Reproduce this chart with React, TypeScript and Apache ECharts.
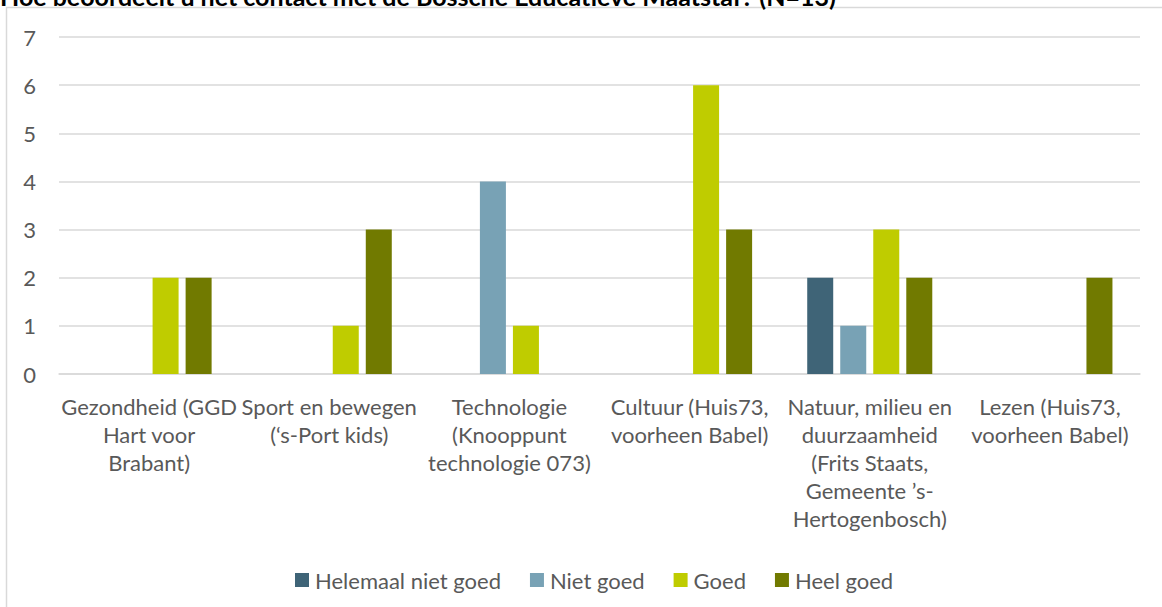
import React, { useEffect, useRef } from "react";
import * as echarts from "echarts";

const title = "Hoe beoordeelt u het contact met de Bossche Educatieve Maatstaf? (N=13)";
const categories = [
  "Gezondheid (GGD\nHart voor\nBrabant)",
  "Sport en bewegen\n(‘s-Port kids)",
  "Technologie\n(Knooppunt\ntechnologie 073)",
  "Cultuur (Huis73,\nvoorheen Babel)",
  "Natuur, milieu en\nduurzaamheid\n(Frits Staats,\nGemeente ’s-\nHertogenbosch)",
  "Lezen (Huis73,\nvoorheen Babel)",
];
const seriesNames = ["Helemaal niet goed", "Niet goed", "Goed", "Heel goed"];
const helemaalNietGoed = [0, 0, 0, 0, 2, 0];
const nietGoed = [0, 0, 4, 0, 1, 0];
const goed = [2, 1, 1, 6, 3, 0];
const heelGoed = [2, 3, 0, 3, 2, 2];
const colors = ["#3F6477", "#78A2B5", "#BFCC00", "#717A00"];
const yTicks = { min: 0, max: 7, interval: 1 };

const FONT = "Lato, 'Open Sans', sans-serif";

export default function App() {
  const ref = useRef<HTMLDivElement>(null);
  useEffect(() => {
    document.body.style.margin = "0";
    if (!ref.current) return;
    const chart = echarts.init(ref.current, null, { renderer: "svg" });
    const values = [helemaalNietGoed, nietGoed, goed, heelGoed];
    chart.setOption({
      animation: false,
      backgroundColor: "#ffffff",
      textStyle: { fontFamily: FONT },
      graphic: [
        {
          type: "text",
          x: 0,
          y: 8,
          style: {
            text: title,
            font: `bold 25px ${FONT}`,
            fill: "#000000",
            verticalAlign: "bottom",
          },
          silent: true,
        },
        {
          type: "rect",
          shape: { x: 6.5, y: 7.5, width: 1300, height: 800 },
          style: { fill: "#ffffff", stroke: "#D9D9D9", lineWidth: 1.5 },
          silent: true,
          z: -10,
        },
      ],
      grid: { left: 59, right: 22, top: 37, bottom: 233, containLabel: false },
      legend: {
        data: seriesNames,
        top: 564,
        left: 290,
        itemWidth: 14,
        itemHeight: 14,
        itemGap: 29,
        icon: "rect",
        textStyle: { color: "#595959", fontSize: 22, fontFamily: FONT, padding: [0, 0, 0, 1] },
      },
      xAxis: {
        type: "category",
        data: categories,
        axisLine: { show: true, lineStyle: { color: "#D9D9D9", width: 1.5 } },
        axisTick: { show: false },
        axisLabel: {
          color: "#595959",
          fontSize: 22,
          fontFamily: FONT,
          lineHeight: 28,
          margin: 18,
          interval: 0,
          align: "center",
        },
      },
      yAxis: {
        type: "value",
        min: yTicks.min,
        max: yTicks.max,
        interval: yTicks.interval,
        axisLine: { show: false },
        axisTick: { show: false },
        splitLine: { lineStyle: { color: "#D9D9D9", width: 1.5 } },
        axisLabel: { color: "#595959", fontSize: 22, fontFamily: FONT, margin: 23 },
      },
      series: seriesNames.map((name, i) => ({
        name,
        type: "bar",
        data: values[i],
        barWidth: 26,
        barGap: "27%",
        itemStyle: { color: colors[i] },
      })),
    });
    return () => chart.dispose();
  }, []);
  return <div ref={ref} style={{ width: 1162, height: 607 }} />;
}
